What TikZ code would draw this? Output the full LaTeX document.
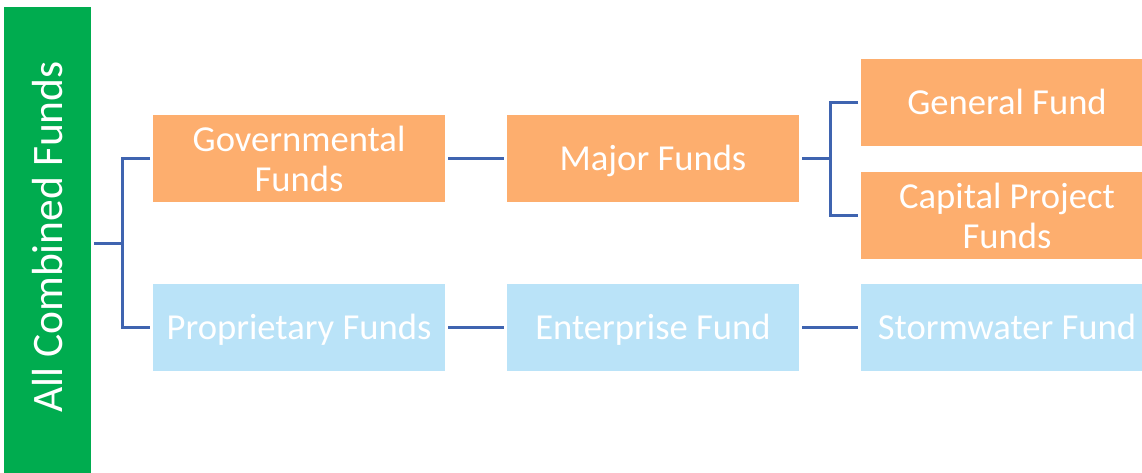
\documentclass[tikz,border=0pt]{standalone}
\usepackage{fontspec}
\setmainfont{Carlito}
\definecolor{orangebox}{HTML}{FDAE6E}
\definecolor{bluebox}{HTML}{BAE3F8}
\definecolor{greenbar}{HTML}{00AC4F}
\definecolor{connblue}{HTML}{3F64B0}
\tikzset{
  fundbox/.style={minimum width=292, minimum height=87, inner sep=0, outer sep=0,
    text=white, font=\fontsize{36.6}{40}\selectfont},
  twoline/.style={align=center},
  oneline/.style={text height=24pt, text depth=0pt},
  orangefund/.style={fundbox, fill=orangebox},
  bluefund/.style={fundbox, fill=bluebox},
  barbox/.style={fill=greenbar, minimum width=87, minimum height=472, inner sep=0, outer sep=0},
  bartext/.style={rotate=90, text=white, inner sep=0, font=\fontsize{43.5}{48}\selectfont},
  conn/.style={draw=connblue, line width=3}
}
\begin{document}
\begin{tikzpicture}[x=1pt, y=-1pt]
\clip (0,0) rectangle (1142,472);
\fill[white] (0,0) rectangle (1142,472);
\node[barbox] (all) at (47.5,243) {};
\node[bartext] (alltext) at (48,237) {All Combined Funds};

\node[orangefund, twoline] (gov) at (299,158.5) {Governmental\\Funds};
\node[bluefund, oneline] (prop) at (299,327.5) {Proprietary Funds};
\node[orangefund, oneline] (major) at (653,158.5) {Major Funds};
\node[bluefund, oneline] (ent) at (653,327.5) {Enterprise Fund};
\node[orangefund, oneline] (gen) at (1007,102.5) {General Fund};
\node[orangefund, twoline] (cap) at (1007,215.5) {Capital Project\\Funds};
\node[bluefund, oneline] (storm) at (1007,327.5) {Stormwater Fund};

\coordinate (j1) at (122,243);
\coordinate (j2) at (830,158.5);
\draw[conn] ([xshift=3]all.east |- j1) -- (j1);
\draw[conn] ([xshift=-3]gov.west) -| (j1) |- ([xshift=-3]prop.west);
\draw[conn] ([xshift=3]gov.east) -- ([xshift=-3]major.west);
\draw[conn] ([xshift=3]major.east) -- (j2);
\draw[conn] ([xshift=-3]gen.west) -| (j2) |- ([xshift=-3]cap.west);
\draw[conn] ([xshift=3]prop.east) -- ([xshift=-3]ent.west);
\draw[conn] ([xshift=3]ent.east) -- ([xshift=-3]storm.west);
\end{tikzpicture}
\end{document}
